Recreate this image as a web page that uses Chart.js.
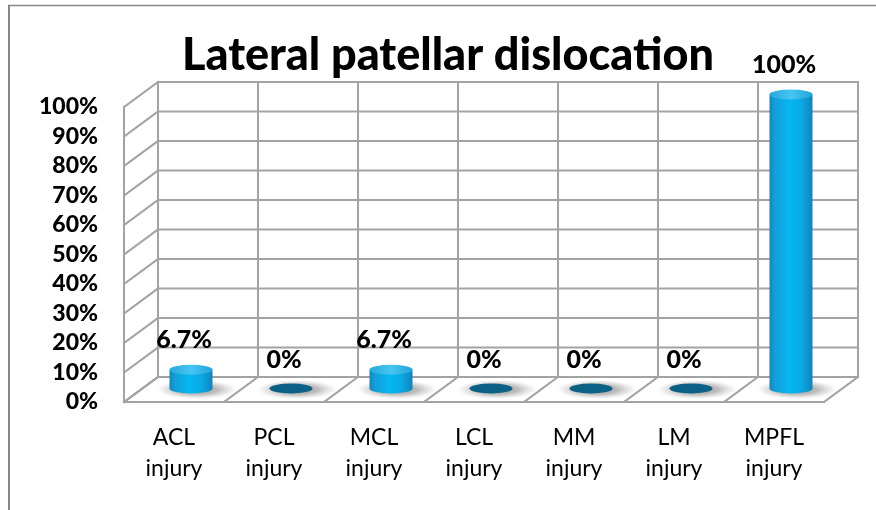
<!DOCTYPE html>
<html>
<head>
<meta charset="utf-8">
<script src="https://cdn.jsdelivr.net/npm/chart.js@4.4.1/dist/chart.umd.min.js"></script>
<style>
  html, body { margin: 0; padding: 0; background: #ffffff; }
  #wrap { width: 876px; height: 510px; position: relative; }
</style>
</head>
<body>
<div id="wrap"><canvas id="c" width="876" height="510"></canvas></div>
<script>
// ---- data ----
const titleText = 'Lateral patellar dislocation';
const categories = [['ACL', 'injury'], ['PCL', 'injury'], ['MCL', 'injury'], ['LCL', 'injury'], ['MM', 'injury'], ['LM', 'injury'], ['MPFL', 'injury']];
const values = [6.7, 0, 6.7, 0, 0, 0, 100];
const valueLabels = ['6.7%', '0%', '6.7%', '0%', '0%', '0%', '100%'];
const yMin = 0, yMax = 100, yStep = 10;

// ---- 3D look ----
const DX = 34, DY = -25;          // depth offset of back wall
const GRID = '#a3a3a3';
const FONT = 'Lato, "Open Sans", sans-serif';

function line(ctx, x1, y1, x2, y2) {
  ctx.beginPath(); ctx.moveTo(x1, y1); ctx.lineTo(x2, y2); ctx.stroke();
}

const framePlugin = {
  id: 'frame',
  beforeDraw(chart) {
    const ctx = chart.ctx;
    ctx.save();
    ctx.fillStyle = '#ffffff';
    ctx.fillRect(0, 0, chart.width, chart.height);
    ctx.strokeStyle = '#878787';
    ctx.lineWidth = 1.5;
    line(ctx, 8, 5.5, chart.width, 5.5);
    ctx.lineWidth = 2;
    line(ctx, 9, 5, 9, chart.height);
    ctx.restore();
  }
};

const wallsPlugin = {
  id: 'walls',
  beforeDatasetsDraw(chart) {
    const { ctx, chartArea: a, scales: { x, y } } = chart;
    ctx.save();
    ctx.strokeStyle = GRID;
    ctx.lineWidth = 2;
    ctx.lineCap = 'square';
    const yTop = y.getPixelForValue(yMax), y0 = y.getPixelForValue(yMin);
    y.ticks.forEach(t => {
      const py = y.getPixelForValue(t.value);
      line(ctx, a.left + DX, py + DY, a.right + DX, py + DY);
      line(ctx, a.left, py, a.left + DX, py + DY);
    });
    line(ctx, a.left, yTop, a.left, y0);
    for (let i = 0; i <= categories.length; i++) {
      const bx = x.getPixelForValue(i - 0.5);
      line(ctx, bx + DX, yTop + DY, bx + DX, y0 + DY);
      line(ctx, bx + DX, y0 + DY, bx, y0);
    }
    line(ctx, a.left, y0, a.right, y0);
    ctx.restore();
  }
};

function ellipsePath(ctx, cx, cy, rx, ry) {
  ctx.beginPath();
  ctx.ellipse(cx, cy, rx, ry, 0, 0, Math.PI * 2);
}

const cylinderPlugin = {
  id: 'cylinders',
  afterDatasetsDraw(chart) {
    const ctx = chart.ctx;
    const meta = chart.getDatasetMeta(0);
    ctx.save();
    meta.data.forEach((bar, i) => {
      const p = bar.getProps(['x', 'y', 'base', 'width'], true);
      const cx = p.x + DX / 2;
      const top = p.y + DY / 2;
      const bottom = p.base + DY / 2 - 1;
      const rx = p.width / 2, ry = 5;

      // soft floor shadow
      ctx.save();
      ctx.translate(cx + 6, bottom + 1);
      ctx.scale(1, 0.24);
      const sg = ctx.createRadialGradient(0, 0, 0, 0, 0, 40);
      sg.addColorStop(0, 'rgba(90,90,90,0.75)');
      sg.addColorStop(0.55, 'rgba(120,120,120,0.45)');
      sg.addColorStop(1, 'rgba(160,160,160,0)');
      ctx.fillStyle = sg;
      ctx.beginPath(); ctx.arc(0, 0, 40, 0, Math.PI * 2); ctx.fill();
      ctx.restore();

      if (values[i] > 0) {
        const topC = Math.min(top, bottom);
        const g = ctx.createLinearGradient(cx - rx, 0, cx + rx, 0);
        g.addColorStop(0, '#1585bd');
        g.addColorStop(0.12, '#139fd9');
        g.addColorStop(0.45, '#06b6ef');
        g.addColorStop(0.75, '#0aa9e3');
        g.addColorStop(1, '#1283bb');
        ctx.fillStyle = g;
        ctx.beginPath();
        ctx.moveTo(cx - rx, topC);
        ctx.lineTo(cx - rx, bottom);
        ctx.ellipse(cx, bottom, rx, ry, 0, Math.PI, 0, true);
        ctx.lineTo(cx + rx, topC);
        ctx.closePath();
        ctx.fill();
        const tg = ctx.createLinearGradient(cx - rx, 0, cx + rx, 0);
        tg.addColorStop(0, '#2aa8dc');
        tg.addColorStop(0.5, '#46c6f2');
        tg.addColorStop(1, '#23a2d8');
        ctx.fillStyle = tg;
        ellipsePath(ctx, cx, topC, rx, ry);
        ctx.fill();
      } else {
        ctx.fillStyle = '#0b6086';
        ellipsePath(ctx, cx, bottom, rx, ry);
        ctx.fill();
      }

      // value label
      ctx.fillStyle = '#000000';
      ctx.font = '900 25px ' + FONT;
      ctx.textAlign = 'center';
      ctx.textBaseline = 'middle';
      ctx.fillText(valueLabels[i], cx - 7, top - 30);
    });
    ctx.restore();
  }
};

new Chart(document.getElementById('c'), {
  type: 'bar',
  data: {
    labels: categories,
    datasets: [{
      data: values,
      backgroundColor: 'rgba(0,0,0,0)',
      borderWidth: 0,
      barPercentage: 0.43,
      categoryPercentage: 1.0
    }]
  },
  options: {
    responsive: false,
    animation: false,
    devicePixelRatio: 1,
    layout: { padding: { left: 20, right: 0, top: 0, bottom: 0 } },
    plugins: {
      legend: { display: false },
      tooltip: { enabled: false },
      title: {
        display: true,
        text: titleText,
        color: '#000000',
        font: { family: FONT, size: 45, weight: '900', lineHeight: 1.2 },
        padding: { top: 28, bottom: 25 }
      }
    },
    scales: {
      x: {
        grid: { display: false, drawTicks: false },
        border: { display: false },
        ticks: {
          color: '#000000',
          padding: 20,
          maxRotation: 0,
          autoSkip: false,
          font: { family: FONT, size: 23, lineHeight: 31 / 23 }
        },
        afterFit(s) { s.height = 108; }
      },
      y: {
        min: yMin, max: yMax,
        grid: { display: false, drawTicks: false },
        border: { display: false },
        ticks: {
          stepSize: yStep,
          autoSkip: false,
          color: '#000000',
          padding: 26,
          font: { family: FONT, size: 23, weight: '900' },
          callback: v => v + '%'
        },
        afterFit(s) { s.width = 104; }
      },
      yRight: {
        position: 'right',
        min: yMin, max: yMax,
        grid: { display: false, drawTicks: false },
        border: { display: false },
        ticks: { display: false },
        afterFit(s) { s.width = 52; }
      }
    }
  },
  plugins: [framePlugin, wallsPlugin, cylinderPlugin]
});
</script>
</body>
</html>
